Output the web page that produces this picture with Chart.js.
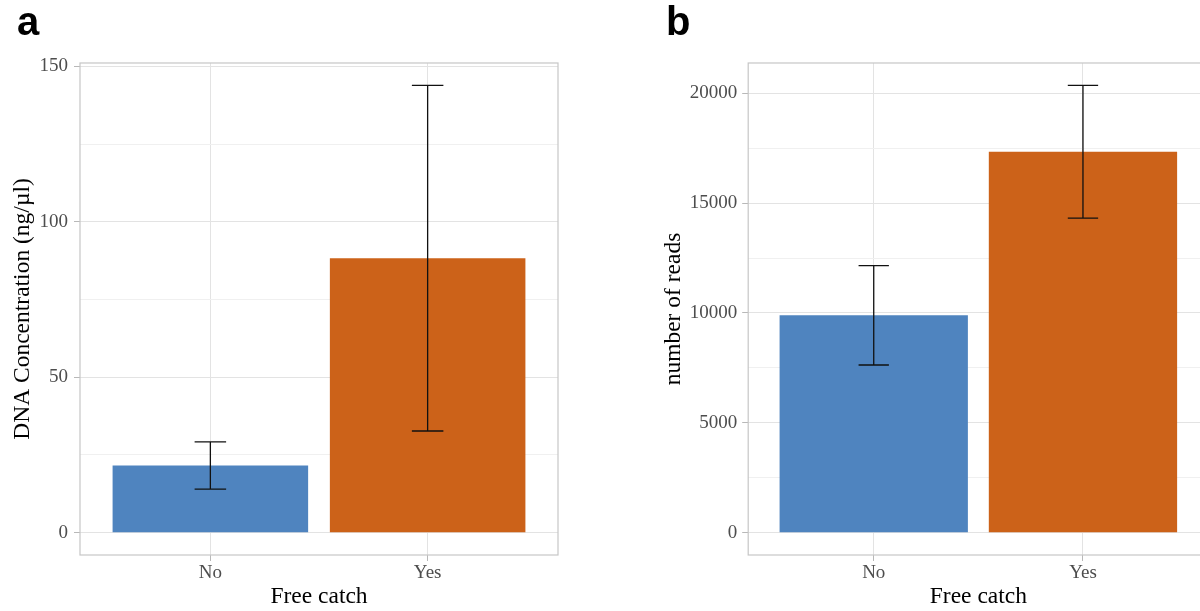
<!DOCTYPE html>
<html>
<head>
<meta charset="utf-8">
<script src="https://cdn.jsdelivr.net/npm/chart.js@4.4.1/dist/chart.umd.min.js"></script>
<style>
  html, body { margin: 0; padding: 0; background: #fff; overflow: hidden; width: 1200px; height: 611px; }
  .panel { position: absolute; top: 0; width: 600px; height: 611px; }
  #wrapA { left: 0; }
  #wrapB { left: 640px; }
</style>
</head>
<body>
<div class="panel" id="wrapA"><canvas id="chartA"></canvas></div>
<div class="panel" id="wrapB"><canvas id="chartB"></canvas></div>
<script>
// Groups on the x axis
const categories = ['No', 'Yes'];

// Panel a: DNA concentration (ng/µl), mean and error half-width
const dnaMean = [21.6, 88.3];
const dnaErr = [7.6, 55.6];
const dnaTicks = [0, 50, 100, 150];

// Panel b: number of reads, mean and error half-width
const readsMean = [9890, 17340];
const readsErr = [2260, 3020];
const readsTicks = [0, 5000, 10000, 15000, 20000];

const barColors = ['#4F84BF', '#CC6219'];

const SERIF = '"Liberation Serif", "Times New Roman", serif';
const SANS = '"Liberation Sans", Arial, sans-serif';

// Whisker lines with caps, placed through the chart's scales
const errorBarPlugin = {
  id: 'errorBars',
  afterDatasetsDraw(chart, args, opts) {
    const { ctx, scales: { x, y } } = chart;
    ctx.save();
    ctx.strokeStyle = '#111';
    ctx.lineWidth = 1.3;
    opts.mean.forEach((m, i) => {
      const cx = x.getPixelForValue(i + 1);
      const hw = x.getPixelForValue(i + 1 + opts.capHalf) - cx;
      const yt = y.getPixelForValue(m + opts.err[i]);
      const yb = y.getPixelForValue(m - opts.err[i]);
      ctx.beginPath();
      ctx.moveTo(cx, yt); ctx.lineTo(cx, yb);
      ctx.moveTo(cx - hw, yt); ctx.lineTo(cx + hw, yt);
      ctx.moveTo(cx - hw, yb); ctx.lineTo(cx + hw, yb);
      ctx.stroke();
    });
    // panel frame
    const a = chart.chartArea;
    ctx.strokeStyle = '#C6C6C6';
    ctx.lineWidth = 1.2;
    ctx.strokeRect(a.left, a.top, a.right - a.left, a.bottom - a.top);
    ctx.restore();
  }
};

// Bold panel letter in the top-left corner
const panelLetterPlugin = {
  id: 'panelLetter',
  afterDraw(chart, args, opts) {
    const ctx = chart.ctx;
    ctx.save();
    ctx.fillStyle = '#000';
    ctx.font = 'bold 40px ' + SANS;
    ctx.textBaseline = 'alphabetic';
    ctx.textAlign = 'left';
    ctx.fillText(opts.letter, opts.x, opts.y);
    ctx.restore();
  }
};

function makePanel(canvasId, cfg) {
  const top = Math.max(...cfg.mean.map((m, i) => m + cfg.err[i]));
  const pad = top * 0.05;
  const minor = [];
  for (let i = 0; i < cfg.ticks.length - 1; i++) minor.push((cfg.ticks[i] + cfg.ticks[i + 1]) / 2);
  const yTickValues = cfg.ticks.concat(minor).sort((p, q) => p - q);
  const isMajor = v => cfg.ticks.includes(v);

  return new Chart(document.getElementById(canvasId), {
    type: 'bar',
    data: {
      datasets: [{
        data: categories.map((c, i) => ({ x: i + 1, y: cfg.mean[i] })),
        backgroundColor: barColors,
        borderWidth: 0,
        categoryPercentage: 1,
        barPercentage: 0.9
      }]
    },
    options: {
      responsive: true,
      maintainAspectRatio: false,
      animation: false,
      layout: { padding: { top: 63, right: cfg.padRight, left: 0, bottom: 0 } },
      plugins: {
        legend: { display: false },
        tooltip: { enabled: false },
        errorBars: { mean: cfg.mean, err: cfg.err, capHalf: 0.0725 },
        panelLetter: { letter: cfg.letter, x: cfg.letterX, y: 35 }
      },
      scales: {
        x: {
          type: 'linear',
          offset: false,
          min: 0.4,
          max: 2.6,
          afterBuildTicks: s => { s.ticks = categories.map((c, i) => ({ value: i + 1 })); },
          afterFit: s => { s.height = 56; },
          ticks: {
            callback: v => categories[Math.round(v) - 1],
            color: '#4D4D4D',
            font: { family: SERIF, size: 19 },
            padding: 1,
            maxRotation: 0,
            autoSkip: false
          },
          grid: { offset: false, color: '#E3E3E3', lineWidth: 1, tickColor: '#B8B8B8', tickLength: 6 },
          border: { display: false },
          title: {
            display: true,
            text: 'Free catch',
            color: '#000',
            font: { family: SERIF, size: 23.5 },
            padding: { top: 0, bottom: 0 }
          }
        },
        y: {
          min: -pad,
          max: top + pad,
          afterBuildTicks: s => { s.ticks = yTickValues.map(v => ({ value: v })); },
          afterFit: s => { s.width = cfg.yWidth; },
          ticks: {
            callback: v => (isMajor(v) ? String(v) : ''),
            color: '#4D4D4D',
            font: { family: SERIF, size: 19 },
            padding: cfg.yTickPad,
            autoSkip: false
          },
          grid: {
            color: c => (c.tick && isMajor(c.tick.value) ? '#E3E3E3' : '#F0F0F0'),
            lineWidth: 1,
            tickColor: c => (c.tick && isMajor(c.tick.value) ? '#B8B8B8' : 'rgba(0,0,0,0)'),
            tickLength: 6
          },
          border: { display: false },
          title: {
            display: true,
            text: cfg.yTitle,
            color: '#000',
            font: { family: SERIF, size: 23.5 },
            padding: { top: cfg.yTitlePad, bottom: 0 }
          }
        }
      }
    },
    plugins: [errorBarPlugin, panelLetterPlugin]
  });
}

makePanel('chartA', {
  mean: dnaMean, err: dnaErr, ticks: dnaTicks,
  yTitle: 'DNA Concentration (ng/µl)',
  yWidth: 80, yTickPad: 6, yTitlePad: 9, padRight: 42,
  letter: 'a', letterX: 17
});

makePanel('chartB', {
  mean: readsMean, err: readsErr, ticks: readsTicks,
  yTitle: 'number of reads',
  yWidth: 108.2, yTickPad: 5, yTitlePad: 20, padRight: 31.5,
  letter: 'b', letterX: 26
});
</script>
</body>
</html>
